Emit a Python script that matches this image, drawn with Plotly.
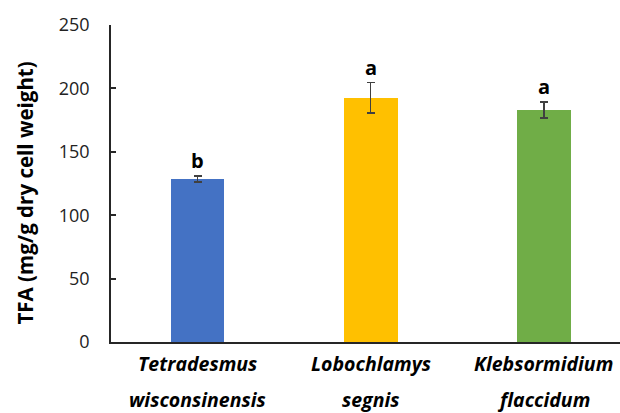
import plotly.graph_objects as go

# Total fatty acid content per species
species_line1 = ["Tetradesmus", "Lobochlamys", "Klebsormidium"]
species_line2 = ["wisconsinensis", "segnis", "flaccidum"]
tfa_mean = [128.5, 192.5, 183.0]
tfa_err = [2.5, 12.0, 6.2]
group_letters = ["b", "a", "a"]
bar_colors = ["#4472C4", "#FFC000", "#70AD47"]
y_ticks = [0, 50, 100, 150, 200, 250]

FONT = "Open Sans"
x_pos = list(range(len(tfa_mean)))

fig = go.Figure()
fig.add_trace(go.Bar(
    x=x_pos,
    y=tfa_mean,
    width=0.31,
    marker=dict(color=bar_colors, line=dict(width=0)),
    error_y=dict(type="data", array=tfa_err, visible=True,
                 color="#404040", thickness=1.5, width=4),
    showlegend=False,
))

annotations = []
# significance letters above error bars
for x, m, e, lab in zip(x_pos, tfa_mean, tfa_err, group_letters):
    annotations.append(dict(
        x=x, y=m + e, xref="x", yref="y", text=f"<b>{lab}</b>",
        showarrow=False, yanchor="bottom", yshift=0,
        font=dict(family=FONT, size=20, color="black"),
    ))
# two-line italic species names under the axis
for x, l1, l2 in zip(x_pos, species_line1, species_line2):
    annotations.append(dict(
        x=x, y=0, xref="x", yref="paper", text=f"<b><i>{l1}</i></b>",
        showarrow=False, yanchor="middle", yshift=-21,
        font=dict(family=FONT, size=19.5, color="black"),
    ))
    annotations.append(dict(
        x=x, y=0, xref="x", yref="paper", text=f"<b><i>{l2}</i></b>",
        showarrow=False, yanchor="middle", yshift=-57,
        font=dict(family=FONT, size=19.5, color="black"),
    ))
# y-axis title
annotations.append(dict(
    x=0, y=0.5, xref="paper", yref="paper",
    text="<b>TFA (mg/g dry cell weight)</b>", textangle=-90,
    showarrow=False, xanchor="center", yanchor="middle",
    xshift=-87, yshift=-10,
    font=dict(family=FONT, size=20.5, color="black"),
))

fig.update_layout(
    width=620, height=413,
    margin=dict(l=111, r=0, t=25, b=71),
    paper_bgcolor="white", plot_bgcolor="white",
    font=dict(family=FONT, color="black"),
    annotations=annotations,
    bargap=0,
    xaxis=dict(
        range=[-0.5, 2.44], showticklabels=False, ticks="",
        showline=True, linecolor="#262626", linewidth=1.5,
        showgrid=False, zeroline=False, fixedrange=True,
    ),
    yaxis=dict(
        range=[0, 250], tickvals=y_ticks, ticks="inside", ticklen=5,
        tickcolor="#262626", tickwidth=1.5,
        showline=True, linecolor="#262626", linewidth=1.5,
        showgrid=False, zeroline=False,
        tickfont=dict(family=FONT, size=18, color="#222222"),
        ticklabelstandoff=16,
    ),
)

fig.write_html("out.html")
